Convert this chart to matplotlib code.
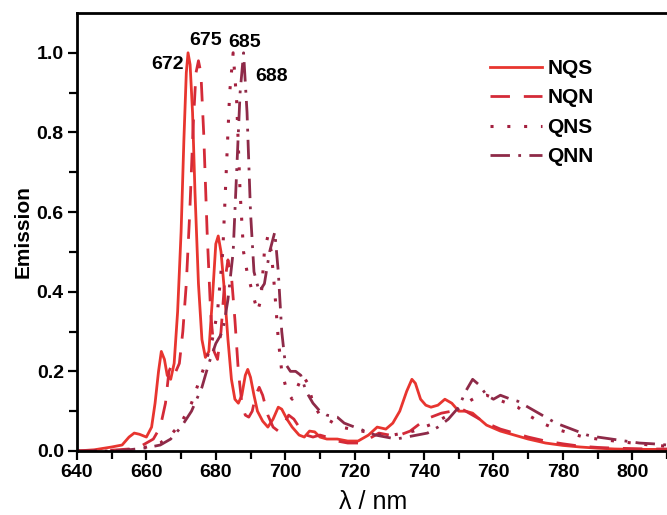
import numpy as np
import matplotlib
matplotlib.use("Agg")
from matplotlib import pyplot as plt

plt.rcParams['font.family'] = ['Liberation Sans', 'DejaVu Sans']

# NQS (solid)
nqs_wl = [640, 645, 650, 653, 655, 656.5, 658, 660, 661.5, 662.5, 663.5, 664.3, 665.2, 666, 667, 668, 669, 670,
          670.8, 671.5, 672, 672.6, 673.3, 674, 675, 676, 677, 678, 679, 680, 680.7, 681.5, 682.5, 683.5, 684.5,
          685.5, 686.5, 687.5, 688.5, 689.2, 690, 691, 692, 693.5, 695, 696.5, 698, 699, 700.5, 702, 704, 705.5,
          707, 708.5, 710, 712, 715, 718, 721, 724, 726.5, 729, 731, 733, 735, 736.5, 737.5, 739, 740.5, 742, 744,
          746, 748, 750, 752, 754, 756, 758, 762, 766, 770, 775, 780, 785, 790, 795, 800, 805, 810]
nqs_em = [0.0, 0.003, 0.01, 0.015, 0.035, 0.045, 0.042, 0.035, 0.06, 0.12, 0.2, 0.25, 0.23, 0.19, 0.18, 0.22, 0.35, 0.55,
          0.78, 0.95, 1.0, 0.97, 0.85, 0.65, 0.42, 0.28, 0.235, 0.25, 0.38, 0.52, 0.54, 0.5, 0.4, 0.28, 0.18,
          0.13, 0.12, 0.14, 0.19, 0.205, 0.185, 0.14, 0.1, 0.075, 0.06, 0.08, 0.11, 0.105, 0.08, 0.06, 0.04, 0.035,
          0.05, 0.048, 0.035, 0.03, 0.03, 0.025, 0.025, 0.04, 0.06, 0.055, 0.07, 0.1, 0.15, 0.18, 0.17, 0.13, 0.115, 0.11, 0.115,
          0.13, 0.12, 0.1, 0.1, 0.095, 0.08, 0.065, 0.05, 0.04, 0.03, 0.02, 0.014, 0.01, 0.007, 0.005, 0.004, 0.004, 0.004]

# NQN (dashed)
nqn_wl = [640, 650, 655, 658, 660, 662, 664, 665.5, 666.5, 667.5, 668.5, 669.5, 670.5, 671.5, 672.5, 673.5, 674.3,
          675, 675.7, 676.5, 677.5, 678.5, 679.5, 680.5, 681.5, 682.5, 683.5, 684.5, 685.5, 686.5, 687.5, 688.5,
          689.5, 690.5, 691.5, 692.5, 693.5, 695, 696.5, 698, 699.5, 701, 702.5, 704, 706, 708, 710, 712, 715, 718,
          721, 724, 727, 730, 733, 736, 739, 742, 745, 748, 751, 753, 755, 758, 762, 766, 770, 775, 780, 785, 790,
          795, 800, 805, 810]
nqn_em = [0.0, 0.002, 0.005, 0.01, 0.02, 0.03, 0.06, 0.12, 0.2, 0.22, 0.2, 0.22, 0.3, 0.42, 0.6, 0.82, 0.95,
          0.98, 0.95, 0.8, 0.55, 0.35, 0.25, 0.23, 0.3, 0.42, 0.48, 0.44, 0.33, 0.2, 0.12, 0.09,
          0.085, 0.1, 0.14, 0.16, 0.14, 0.09, 0.06, 0.05, 0.065, 0.09, 0.08, 0.06, 0.04, 0.035, 0.04, 0.035, 0.025, 0.02,
          0.02, 0.03, 0.045, 0.04, 0.04, 0.05, 0.07, 0.085, 0.095, 0.1, 0.105, 0.095, 0.085, 0.07, 0.055, 0.045, 0.035,
          0.025, 0.018, 0.012, 0.009, 0.007, 0.006, 0.005, 0.005]

# QNS (dotted)
qns_wl = [640, 650, 655, 660, 664, 667, 670, 673, 675, 677, 679, 680.5, 682, 683, 684, 685, 686, 687, 688, 689,
          690.5, 692, 693, 694, 695, 696, 697, 698, 699, 700.5, 702, 703.5, 705, 706.5, 708, 710, 713, 716, 719,
          722, 725, 728, 731, 734, 737, 740, 743, 746, 749, 752, 755, 758, 761, 764, 767, 770, 774, 778, 782, 786,
          790, 795, 800, 805, 810]
qns_em = [0.0, 0.0, 0.003, 0.01, 0.02, 0.04, 0.07, 0.12, 0.17, 0.22, 0.28, 0.35, 0.5, 0.7, 0.9, 1.0, 0.88, 0.65, 0.5,
          0.45, 0.4, 0.35, 0.38, 0.5, 0.54, 0.5, 0.4, 0.28, 0.2, 0.15, 0.13, 0.16, 0.19, 0.17, 0.12, 0.09, 0.075,
          0.06, 0.055, 0.05, 0.045, 0.04, 0.04, 0.045, 0.05, 0.06, 0.07, 0.085, 0.1, 0.12, 0.135, 0.14, 0.13, 0.12,
          0.11, 0.09, 0.07, 0.055, 0.045, 0.035, 0.03, 0.025, 0.02, 0.015, 0.012]

# QNN (dash-dot)
qnn_wl = [640, 650, 655, 660, 664, 667, 670, 673, 676, 678, 680, 682, 683.5, 685, 686, 687, 688, 689, 690, 691,
          692.5, 694, 695.5, 697, 698, 699, 700, 701.5, 703, 704.5, 706, 708, 710, 712, 715, 717, 720, 723, 726, 729,
          732, 735, 738, 741, 744, 747, 750, 752, 754, 756, 758, 760, 762, 765, 767, 769, 772, 775, 778, 781, 784,
          787, 790, 794, 798, 802, 806, 810]
qnn_em = [0.0, 0.0, 0.003, 0.008, 0.015, 0.03, 0.06, 0.1, 0.16, 0.22, 0.27, 0.3, 0.38, 0.5, 0.7, 0.9, 1.0, 0.85,
          0.6, 0.45, 0.4, 0.42, 0.5, 0.55, 0.45, 0.3, 0.22, 0.2, 0.2, 0.19, 0.15, 0.12, 0.1, 0.09, 0.085, 0.07, 0.06,
          0.05, 0.04, 0.035, 0.03, 0.035, 0.04, 0.045, 0.06, 0.08, 0.11, 0.15, 0.18, 0.165, 0.14, 0.13, 0.14, 0.13,
          0.125, 0.115, 0.1, 0.085, 0.07, 0.06, 0.05, 0.04, 0.035, 0.03, 0.025, 0.02, 0.018, 0.015]

peak_labels = ["672", "675", "685", "688"]
peak_pos = [(666.2, 0.97), (677.1, 1.032), (688.3, 1.027), (696.1, 0.94)]

fig = plt.figure(figsize=(6.67, 5.15), dpi=100)
ax = fig.add_axes([0.1154, 0.1243, 0.8846, 0.8505])

ax.plot(nqs_wl, nqs_em, color="#e8352f", lw=2, label="NQS")
ax.plot(nqn_wl, nqn_em, color="#d42a38", lw=2, dashes=(7, 5), label="NQN")
ax.plot(qns_wl, qns_em, color="#a3203f", lw=2.2, dashes=(1, 4.5), label="QNS")
ax.plot(qnn_wl, qnn_em, color="#8e2a48", lw=2, dashes=(7, 3, 1, 3), label="QNN")

for t, (x, y) in zip(peak_labels, peak_pos):
    ax.text(x, y, t, ha="center", va="center", fontsize=14, fontweight="bold")

ax.set_xlim(640, 810)
ax.set_ylim(0, 1.1)
ax.set_xticks(np.arange(640, 801, 20))
ax.set_xticks(np.arange(650, 811, 10), minor=True)
ax.set_yticks(np.arange(0, 1.01, 0.2))
ax.set_yticks(np.arange(0.1, 1.1, 0.2), minor=True)
ax.set_yticklabels(["0.0", "0.2", "0.4", "0.6", "0.8", "1.0"])
ax.tick_params(which="both", direction="out", width=1.6, labelsize=14, pad=3)
ax.tick_params(which="major", length=6.5)
ax.tick_params(which="minor", length=6)
for lbl in ax.get_xticklabels() + ax.get_yticklabels():
    lbl.set_fontweight("bold")
for s in ["left", "top", "bottom"]:
    ax.spines[s].set_linewidth(2)
ax.spines["right"].set_visible(False)

ax.set_ylabel("Emission", fontsize=15, fontweight="bold")
ax.yaxis.set_label_coords(-0.075, 0.5)
ax.set_xlabel("λ / nm", fontsize=18)
ax.xaxis.set_label_coords(0.502, -0.09)

leg = ax.legend(loc="upper left", bbox_to_anchor=(0.7, 0.895), frameon=False, fontsize=15,
                handlelength=2.5, handletextpad=0.25, labelspacing=0.5, borderpad=0, borderaxespad=0)
for t in leg.get_texts():
    t.set_fontweight("bold")

fig.savefig("out.png", dpi=100)
